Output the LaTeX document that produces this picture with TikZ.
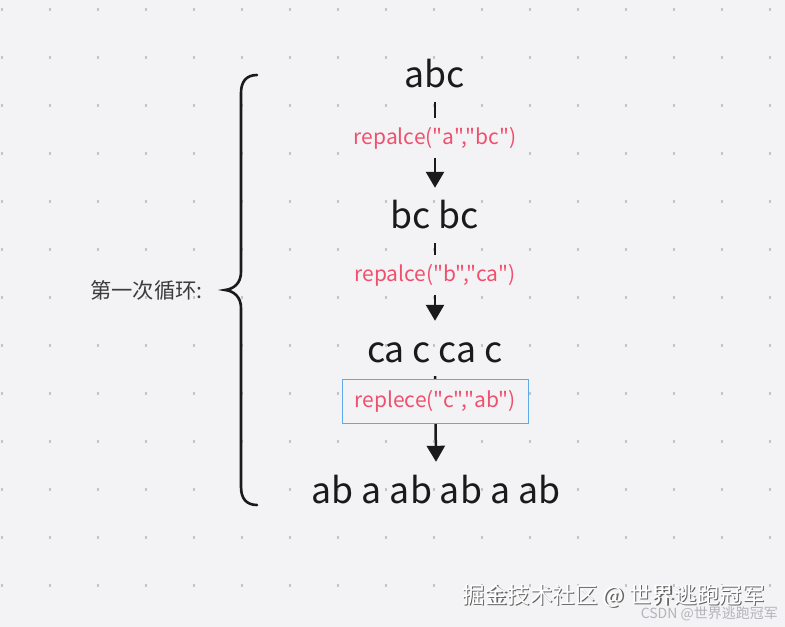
\documentclass[tikz,border=0pt]{standalone}
\usepackage{fontspec}
\newfontfamily\cjk{Noto Sans CJK SC}
\usetikzlibrary{arrows.meta}
\definecolor{bg}{RGB}{243,243,245}
\definecolor{dotc}{RGB}{195,195,200}
\definecolor{ink}{RGB}{26,26,26}
\definecolor{redl}{RGB}{240,80,110}
\definecolor{bluebox}{RGB}{95,170,235}
\definecolor{wmshadow}{RGB}{100,100,100}
\definecolor{wmlight}{RGB}{180,180,184}
\tikzset{
  word/.style={inner sep=0pt, text height=41bp, text depth=14bp, anchor=base,
    text=ink, font=\cjk\fontsize{35.6bp}{42bp}\selectfont},
  conn/.style={draw=ink, line width=2.5bp, -{Triangle[width=18bp,length=16bp]}},
  oplabel/.style={fill=bg, inner xsep=2bp, inner ysep=9bp, text=redl,
    font=\cjk\fontsize{21bp}{25bp}\selectfont},
  opbox/.style={oplabel, draw=bluebox, line width=1bp, minimum width=186bp, minimum height=44bp},
  bracestyle/.style={draw=ink, line width=2.6bp, line cap=round},
  sidelabel/.style={text=ink!85, font=\cjk\fontsize{21.3bp}{25bp}\selectfont, inner sep=0pt},
  wmfont/.style={inner sep=0pt, font=\cjk\fontsize{22.6bp}{26bp}\selectfont},
}
\begin{document}
\begin{tikzpicture}[x=1bp,y=-1bp]
\fill[bg] (0,0) rectangle (785,627);
\useasboundingbox (0,0) rectangle (785,627);
% dot grid
\foreach \i in {0,...,16}{
  \foreach \j in {0,...,12}{
    \fill[dotc] ({2+48*\i-1.2},{9.5+48*\j-1.2}) rectangle ++(2.4,2.4);
  }
}
% words
\node[word] (w1) at (435,88) {abc};
\node[word] (w2) at (435,229) {bc bc};
\node[word] (w3) at (435,362) {ca c ca c};
\node[word] (w4) at (436,503) {ab a ab ab a ab};
% connectors
\draw[conn] (w1.south) -- node[pos=0.42, oplabel] (l1) {repalce("a","bc")} (w2.north);
\draw[conn] (w2.south) -- node[pos=0.41, oplabel] (l2) {repalce("b","ca")} (w3.north);
\draw[conn] (w3.south) -- node[pos=0.29, opbox] (l3) {replece("c","ab")} (w4.north);
% brace
\draw[bracestyle] (257,75) .. controls (246,75) and (241,82) .. (241,93)
  -- (241,272) .. controls (241,283) and (234,289) .. (225,290)
  .. controls (234,291) and (241,297) .. (241,308)
  -- (241,487) .. controls (241,498) and (246,505) .. (257,505);
\node[sidelabel, anchor=east] (side) at (203,290) {第一次循环:};
% watermark
\node[wmfont, anchor=base west, text=wmshadow] (wmS) at (463.2,604.2) {掘金技术社区 @ 世界逃跑冠军};
\node[wmfont, anchor=base west, text=white] (wm) at (462,603) {掘金技术社区 @ 世界逃跑冠军};
\node[anchor=base east, inner sep=0pt, text=wmlight, font=\cjk\fontsize{14bp}{16bp}\selectfont] (csdn) at (778,618) {CSDN @世界逃跑冠军};
\end{tikzpicture}
\end{document}
